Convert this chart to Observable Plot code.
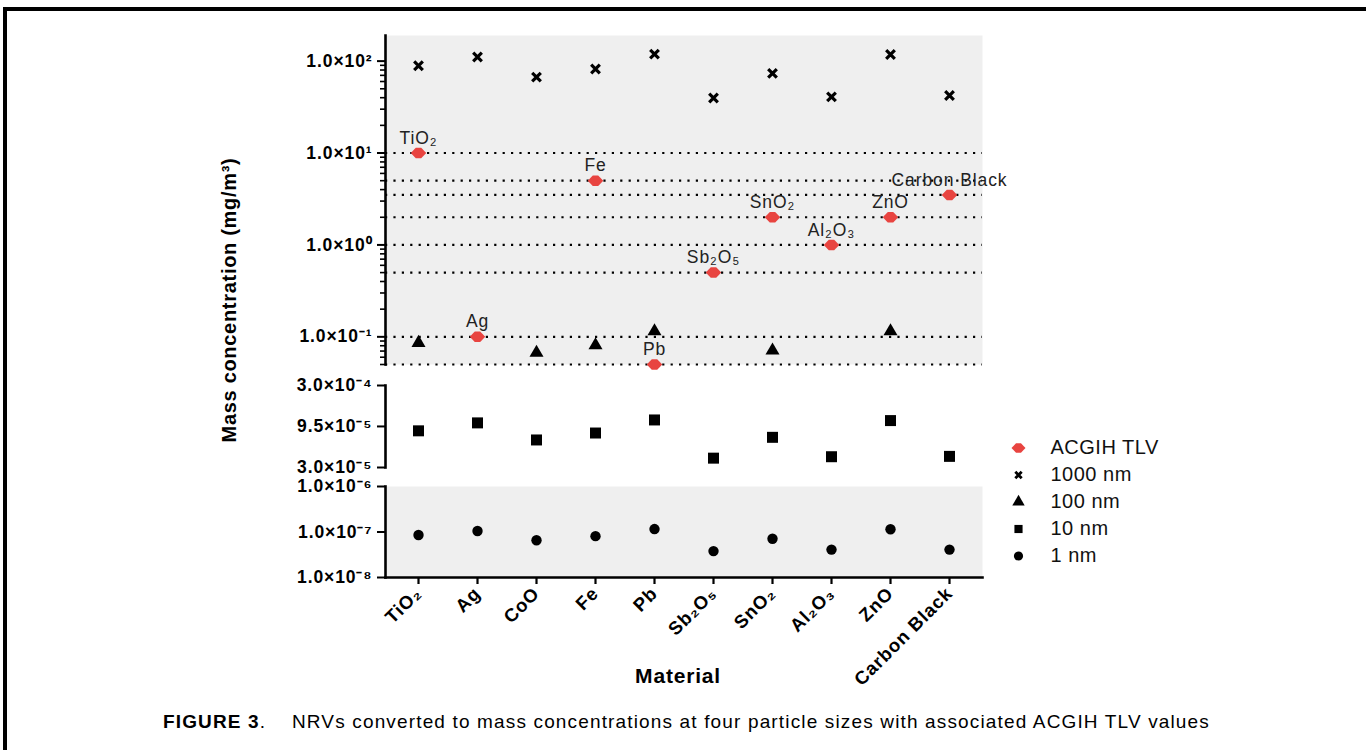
<!DOCTYPE html>
<html>
<head>
<meta charset="utf-8">
<script src="https://cdn.jsdelivr.net/npm/d3@7"></script>
<script src="https://cdn.jsdelivr.net/npm/@observablehq/plot@0.6"></script>
<style>
  html, body { margin: 0; padding: 0; background: #fff; }
  #fig { position: relative; width: 1366px; height: 750px; overflow: hidden; font-family: "Liberation Sans", Arial, Helvetica, sans-serif; color: #000; }
  #border { position: absolute; left: 3px; top: 7px; width: 1420px; height: 820px; border-left: 4px solid #000; border-top: 4px solid #000; box-sizing: border-box; }
  #ylabel { position: absolute; left: 229px; top: 300px; transform: translate(-50%, -50%) rotate(-90deg); white-space: nowrap; font-weight: bold; font-size: 20px; letter-spacing: 0.7px; }
  #xlabel { position: absolute; left: 678px; top: 676px; transform: translate(-50%, -50%); font-weight: bold; font-size: 21px; letter-spacing: 0.8px; white-space: nowrap; }
  #caption { position: absolute; left: 163px; top: 722px; transform: translateY(-50%); font-size: 19px; white-space: pre; letter-spacing: 1.15px; }
</style>
</head>
<body>
<div id="fig">
  <div id="border"></div>
  <div id="ylabel">Mass concentration (mg/m³)</div>
  <div id="xlabel">Material</div>
  <div id="caption"><b>FIGURE 3</b>.    NRVs converted to mass concentrations at four particle sizes with associated ACGIH TLV values</div>
</div>
<script>
// ---------- data ----------
const materials = ["TiO₂", "Ag", "CoO", "Fe", "Pb", "Sb₂O₅", "SnO₂", "Al₂O₃", "ZnO", "Carbon Black"];
const tlvValues = [10, 0.1, null, 5, 0.05, 0.5, 2, 1, 2, 3.5];          // ACGIH TLV (mg/m3)
const nm1000 = [89, 111, 67, 82, 119, 39.7, 73.5, 40.8, 118, 42.3];       // 1000 nm
const nm100 = [0.086, null, 0.067, 0.081, 0.115, null, 0.071, null, 0.115, null]; // 100 nm (visible ones)
const nm10 = [8.4e-5, 1.05e-4, 6.5e-5, 7.9e-5, 1.14e-4, 3.9e-5, 7.0e-5, 4.06e-5, 1.12e-4, 4.1e-5]; // 10 nm
const nm1 = [8.6e-8, 1.05e-7, 6.6e-8, 8.1e-8, 1.16e-7, 3.8e-8, 7.1e-8, 4.1e-8, 1.15e-7, 4.1e-8];   // 1 nm

const topTicks = [100, 10, 1, 0.1];
const topTickLabels = ["1.0×10²", "1.0×10¹", "1.0×10⁰", "1.0×10⁻¹"];
const midTicks = [3e-4, 9.5e-5, 3e-5];
const midTickLabels = ["3.0×10⁻⁴", "9.5×10⁻⁵", "3.0×10⁻⁵"];
const lowTicks = [1e-6, 1e-7, 1e-8];
const lowTickLabels = ["1.0×10⁻⁶", "1.0×10⁻⁷", "1.0×10⁻⁸"];
const legendNames = ["ACGIH TLV", "1000 nm", "100 nm", "10 nm", "1 nm"];

// ---------- layout ----------
const W = 1366, xLeft = 385, xRight = 982;
const FONT = '"Liberation Sans", Arial, Helvetica, sans-serif';
const GRAY = "#efefef", RED = "#e84440";

const rows = materials.map((m, i) => ({material: m, tlv: tlvValues[i], n1000: nm1000[i], n100: nm100[i], n10: nm10[i], n1: nm1[i]}));
const tlvLevels = Array.from(new Set(tlvValues.filter(v => v != null)));

const tlvSymbol = {
  draw(ctx, size) {
    const r = Math.sqrt(size / Math.PI);
    const w = r * 1.25, h = r * 0.85;
    ctx.moveTo(-w, 0);
    ctx.lineTo(-w * 0.35, -h);
    ctx.lineTo(w * 0.35, -h);
    ctx.lineTo(w, 0);
    ctx.lineTo(w * 0.35, h);
    ctx.lineTo(-w * 0.35, h);
    ctx.closePath();
  }
};

const xScale = {type: "point", domain: materials, padding: 0.5, axis: null};
const styleWith = (ls) => ({fontFamily: FONT, background: "transparent", overflow: "visible", color: "#000", letterSpacing: ls});
// y axis: tick marks from the axis mark, labels from a text mark (keeps every label, e.g. 3.0×10⁻⁴)
const tickAxis = (ticks, labels) => [
  Plot.axisY(ticks, {tickSize: 8, strokeWidth: 2, tickFormat: () => "", label: null}),
  Plot.text(ticks, {y: d => d, text: (d, i) => labels[i], frameAnchor: "left", dx: -13, textAnchor: "end", lineAnchor: "middle", fontSize: 17.5, fontWeight: "bold", fill: "#000"})
];

const fig = document.getElementById("fig");
function place(el, top) { el.style.position = "absolute"; el.style.left = "0px"; el.style.top = top + "px"; fig.appendChild(el); }

// top panel
const topDomain = [0.05, 190];
const minorTicks = d3.scaleLog().domain(topDomain).ticks().filter(t => !topTicks.some(m => Math.abs(m - t) < 1e-9));
const topPlot = Plot.plot({
  width: W, height: 372, marginLeft: xLeft, marginRight: W - xRight, marginTop: 35, marginBottom: 8,
  x: xScale,
  y: {type: "log", domain: topDomain, axis: null},
  style: styleWith("0.9px"),
  marks: [
    Plot.frame({fill: GRAY, stroke: null}),
    Plot.ruleY(tlvLevels, {stroke: "#000", strokeWidth: 2.2, strokeDasharray: "2.2,6.2"}),
    Plot.axisY(minorTicks, {tickSize: 5, strokeWidth: 1.6, tickFormat: () => "", label: null}),
    ...tickAxis(topTicks, topTickLabels),
    Plot.frame({anchor: "left", strokeWidth: 2.6}),
    Plot.dot(rows, {x: "material", y: "n1000", symbol: "times", stroke: "#000", strokeWidth: 3.2, r: 4}),
    Plot.dot(rows.filter(d => d.n100 != null), {x: "material", y: "n100", symbol: "triangle", fill: "#000", stroke: null, r: 5.2}),
    Plot.dot(rows.filter(d => d.tlv != null), {x: "material", y: "tlv", symbol: tlvSymbol, fill: RED, stroke: null, r: 6.2}),
    Plot.text(rows.filter(d => d.tlv != null), {x: "material", y: "tlv", text: "material", dy: -15, fontSize: 17.5, fill: "#222", lineAnchor: "middle"})
  ]
});
place(topPlot, 0);

// middle panel (10 nm)
const midPlot = Plot.plot({
  width: W, height: 105, marginLeft: xLeft, marginRight: W - xRight, marginTop: 13, marginBottom: 10,
  x: xScale,
  y: {type: "log", domain: [3e-5, 3e-4], axis: null},
  style: styleWith("0.9px"),
  marks: [
    ...tickAxis(midTicks, midTickLabels),
    Plot.frame({anchor: "left", strokeWidth: 2.6}),
    Plot.dot(rows, {x: "material", y: "n10", symbol: "square", fill: "#000", stroke: null, r: 6.2})
  ]
});
place(midPlot, 372);

// bottom panel (1 nm) with x axis
const lowPlot = Plot.plot({
  width: W, height: 223, marginLeft: xLeft, marginRight: W - xRight, marginTop: 9, marginBottom: 123,
  x: xScale,
  y: {type: "log", domain: [1e-8, 1e-6], axis: null},
  style: styleWith("0.9px"),
  marks: [
    Plot.frame({fill: GRAY, stroke: null}),
    ...tickAxis(lowTicks, lowTickLabels),
    Plot.axisX({tickRotate: -45, tickSize: 7, tickPadding: 6, fontSize: 18.5, fontWeight: "bold", strokeWidth: 2.2, label: null}),
    Plot.frame({anchor: "left", strokeWidth: 2.6}),
    Plot.frame({anchor: "bottom", strokeWidth: 2.6}),
    Plot.dot(rows, {x: "material", y: "n1", symbol: "circle", fill: "#000", stroke: null, r: 5.2})
  ]
});
place(lowPlot, 477);

// legend
const legendMarks = [
  Plot.dot([legendNames[0]], {y: d => d, frameAnchor: "left", dx: 19, symbol: tlvSymbol, fill: RED, stroke: null, r: 5.6}),
  Plot.dot([legendNames[1]], {y: d => d, frameAnchor: "left", dx: 19, symbol: "times", stroke: "#000", strokeWidth: 2.8, r: 3}),
  Plot.dot([legendNames[2]], {y: d => d, frameAnchor: "left", dx: 19, symbol: "triangle", fill: "#000", stroke: null, r: 4.6}),
  Plot.dot([legendNames[3]], {y: d => d, frameAnchor: "left", dx: 19, symbol: "square", fill: "#000", stroke: null, r: 4.6}),
  Plot.dot([legendNames[4]], {y: d => d, frameAnchor: "left", dx: 19, symbol: "circle", fill: "#000", stroke: null, r: 4.6}),
  Plot.text(legendNames, {y: d => d, text: d => d, frameAnchor: "left", dx: 51, textAnchor: "start", fontSize: 20, fill: "#111"})
];
const legendPlot = Plot.plot({
  width: 240, height: 135, marginLeft: 0, marginRight: 0, marginTop: 0, marginBottom: 0,
  y: {type: "band", domain: legendNames, padding: 0, axis: null},
  style: styleWith("0.5px"),
  marks: legendMarks
});
legendPlot.style.position = "absolute";
legendPlot.style.left = "999px";
legendPlot.style.top = "434px";
fig.appendChild(legendPlot);
</script>
</body>
</html>
